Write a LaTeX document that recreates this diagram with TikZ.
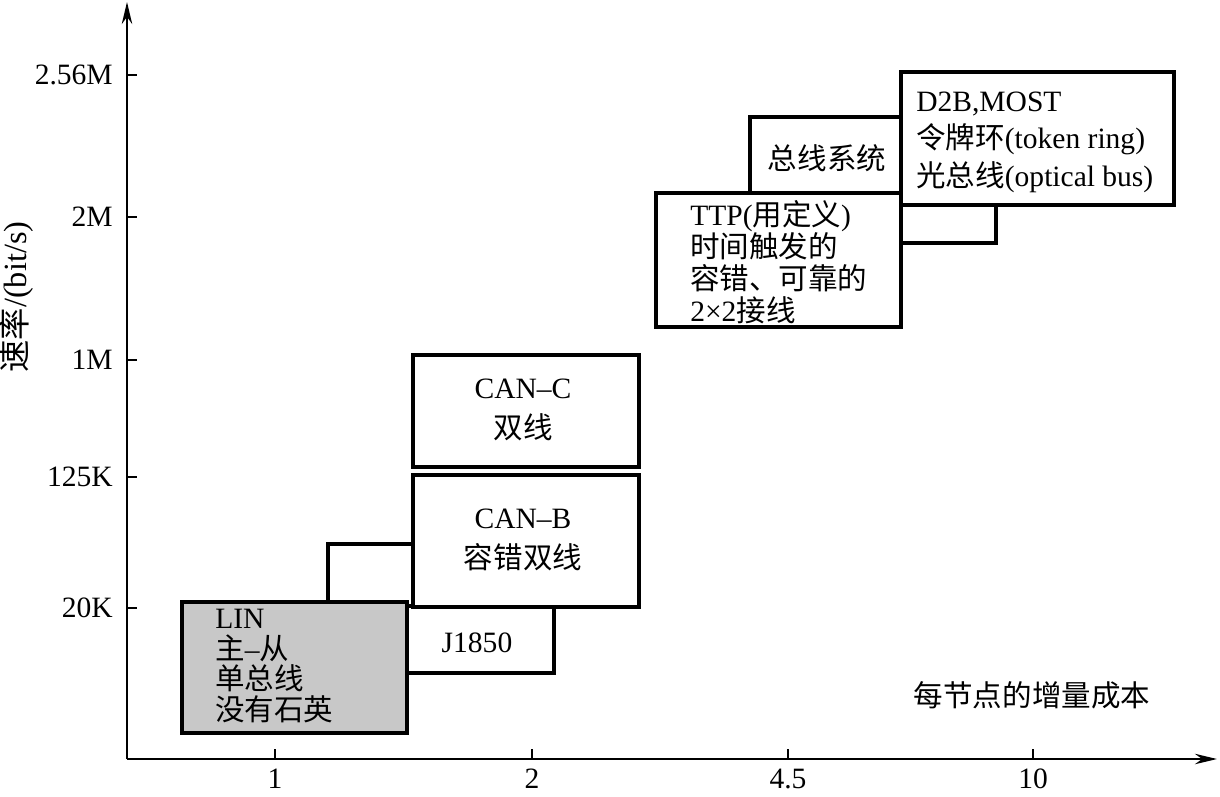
\documentclass[tikz,border=0pt]{standalone}
\usepackage{fontspec}
\setmainfont{Liberation Serif}
\newfontfamily\zhfont{Noto Sans CJK SC}
\newcommand{\cn}[1]{{\zhfont #1}}
\usepackage{tikz}
\usetikzlibrary{arrows.meta}
\definecolor{linfill}{RGB}{200,200,200}
\def\pu{0.025cm}
\tikzset{
  box/.style={draw, line width=2.6pt, inner sep=0pt},
  lbl/.style={inner sep=0pt, font=\fontsize{21}{25}\selectfont},
  axis/.style={line width=1.8pt, -{Stealth[length=0.55cm,width=0.26cm]}},
  tick/.style={line width=1.4pt}
}

\begin{document}
\begin{tikzpicture}[x=\pu, y=-\pu]
  \useasboundingbox (0,0) rectangle (1220,796);
  % axes
  \coordinate (O) at (127,759);
  \coordinate (ytop) at (127,2);
  \coordinate (xend) at (1217,759);
  \draw[axis] (O) -- (ytop);
  \draw[axis] (O) -- (xend);
  \foreach \y/\v [count=\i] in {75/2.56M, 217/2M, 360/1M, 477/125K, 608/20K}{
    \coordinate (yt\i) at (127,\y);
    \draw[tick] (yt\i) -- ++(10,0);
    \node[lbl, anchor=east] (yl\i) at (113,\y) {\v};
  }
  \foreach \x/\v [count=\i] in {275/1, 532/2, 788/4.5, 1033/10}{
    \coordinate (xt\i) at (\x,759);
    \draw[tick] (xt\i) -- ++(0,-10);
    \node[lbl] (xl\i) at (\x,779) {\v};
  }
  \node[lbl, rotate=90, font=\fontsize{23}{26}\selectfont] (ylab) at (16,297) {\cn{速率}/(bit/s)};
  \node[lbl] (cost) at (1032,695) {\cn{每节点的增量成本}};
  % boxes, back to front: name/left/top/right/bottom/fill
  \foreach \n/\l/\t/\r/\b/\f in {back1/328/544/500/640/white, j1850/390/606/554/673/white,
      canb/413/475/639/607/white, canc/413/355/639/467/white, lin/182/602/407/733/linfill,
      back2/850/180/996/243/white, bus/750/117/950/200/white, ttp/656/193/901/327/white,
      d2b/901/72/1174/205/white}{
    \node[box, fill=\f, minimum width=(\r-\l)*\pu, minimum height=(\b-\t)*\pu]
      (\n) at ({(\l+\r)/2},{(\t+\b)/2}) {};
  }
  \node[lbl, align=left, anchor=west, font=\fontsize{21}{22}\selectfont] (lintext) at (215,666)
    {LIN\\\cn{主}--\cn{从}\\\cn{单总线}\\\cn{没有石英}};
  \node[lbl] (j1850text) at (477,643) {J1850};
  \node[lbl, align=center, font=\fontsize{21}{28}\selectfont] (canbtext) at (523,540) {CAN--B\\\cn{容错双线}};
  \node[lbl, align=center, font=\fontsize{21}{28}\selectfont] (canctext) at (523,410) {CAN--C\\\cn{双线}};
  \node[lbl] (bustext) at (827,158) {\cn{总线系统}};
  \node[lbl, align=left, anchor=west, font=\fontsize{21}{22.7}\selectfont] (ttptext) at (690,262)
    {TTP(\cn{用定义})\\\cn{时间触发的}\\\cn{容错、可靠的}\\2×2\cn{接线}};
  \node[lbl, align=left, anchor=west, font=\fontsize{21}{26.6}\selectfont] (d2btext) at (916,142)
    {D2B,MOST\\\cn{令牌环}(token ring)\\\cn{光总线}(optical bus)};
\end{tikzpicture}
\end{document}
